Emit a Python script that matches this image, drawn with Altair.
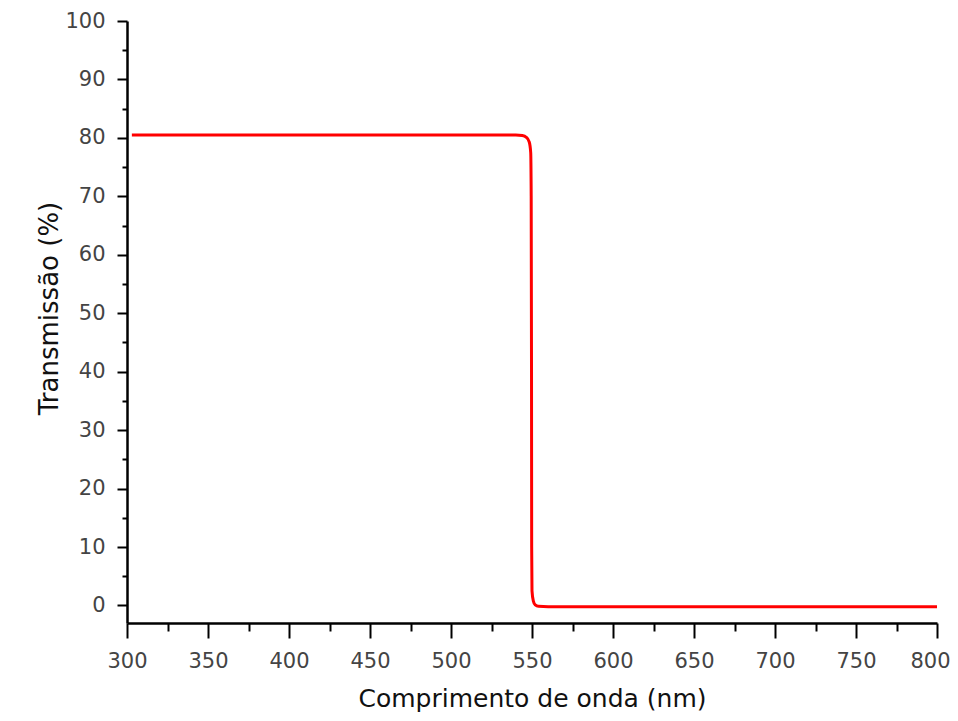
import altair as alt
import pandas as pd

# Transmission curve (wavelength in nm, transmission in %)
wavelength = [303, 540, 544, 546.5, 548.3, 549.2, 549.5, 549.7, 549.8, 550.0, 550.8, 552, 554, 560, 800]
transmission = [80.5, 80.5, 80.4, 80.1, 79.3, 77.5, 70, 40, 10, 2.5, 0.8, 0.1, -0.15, -0.2, -0.2]

x_major = [300, 350, 400, 450, 500, 550, 600, 650, 700, 750, 800]
x_minor = [325, 375, 425, 475, 525, 575, 625, 675, 725, 775]
y_major = [0, 10, 20, 30, 40, 50, 60, 70, 80, 90, 100]
y_minor = [5, 15, 25, 35, 45, 55, 65, 75, 85, 95]

df = pd.DataFrame({"wl": wavelength, "t": transmission})

FONT = "DejaVu Sans"
xscale = alt.Scale(domain=[300, 800], nice=False, zero=False)
yscale = alt.Scale(domain=[-3, 100], nice=False, zero=False)

main = alt.Chart(df).mark_line(color="#ff0000", strokeWidth=3, interpolate="monotone").encode(
    x=alt.X("wl:Q", scale=xscale,
            axis=alt.Axis(orient="bottom", values=x_major, grid=False,
                          title="Comprimento de onda (nm)",
                          domainColor="#000", domainWidth=2.5,
                          tickColor="#000", tickWidth=2, tickSize=15,
                          labelFont=FONT, labelFontSize=21, labelColor="#444",
                          labelPadding=12, labelFlush=False,
                          labelOffset=alt.ExprRef("datum.value == 800 ? -7 : 0"),
                          titleFont=FONT, titleFontSize=25, titleFontWeight="normal",
                          titleColor="#111", titleX=405, titleY=83,
                          titleAlign="center", titleBaseline="alphabetic")),
    y=alt.Y("t:Q", scale=yscale,
            axis=alt.Axis(orient="left", values=y_major, grid=False,
                          title="Transmissão (%)",
                          domainColor="#000", domainWidth=2.5,
                          tickColor="#000", tickWidth=2, tickSize=10,
                          labelFont=FONT, labelFontSize=21, labelColor="#444",
                          labelPadding=12, labelFlush=False,
                          titleFont=FONT, titleFontSize=26, titleFontWeight="normal",
                          titleColor="#111", titleX=-70, titleY=287, titleAngle=-90,
                          titleAlign="center", titleBaseline="alphabetic")),
)

minor = alt.Chart(df).mark_line(opacity=0).encode(
    x=alt.X("wl:Q", scale=xscale,
            axis=alt.Axis(orient="bottom", values=x_minor, grid=False, labels=False,
                          domain=False, title=None, tickColor="#000", tickWidth=2, tickSize=8)),
    y=alt.Y("t:Q", scale=yscale,
            axis=alt.Axis(orient="left", values=y_minor, grid=False, labels=False,
                          domain=False, title=None, tickColor="#000", tickWidth=2, tickSize=5)),
)

chart = alt.layer(main, minor).resolve_axis(x="independent", y="independent").properties(
    width=810, height=602,
    background="white",
    autosize=alt.AutoSizeParams(type="none"),
    padding={"left": 119, "top": 13, "right": 13, "bottom": 89},
).configure_view(stroke=None)

chart.save("out.html", embed_options={"renderer": "svg", "actions": False})
